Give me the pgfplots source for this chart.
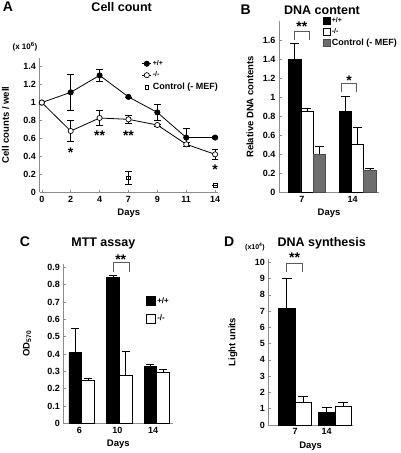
\documentclass[border=0pt]{standalone}
\usepackage{fontspec}
\setmainfont{Liberation Sans}
\usepackage{pgfplots}
\pgfplotsset{compat=1.18}

\definecolor{axgray}{RGB}{140,140,140}
\definecolor{ctrlgray}{RGB}{110,110,110}
\definecolor{brgray}{RGB}{90,90,90}

\tikzset{
  sigstar/.style={font=\bfseries\fontsize{14}{14}\selectfont, inner sep=0pt, yshift=-3pt},
  bracket/.style={draw=brgray, line width=0.7pt},
}
\pgfplotsset{
  panel/.style={
    scale only axis,
    anchor=south west,
    axis x line*=bottom, axis y line*=left,
    axis line style={draw=axgray, line width=0.8pt, -},
    major tick style={draw=axgray, line width=0.6pt},
    major tick length=2.5pt,
    tick align=inside,
    /pgf/number format/assume math mode=true,
    tick label style={font=\bfseries\fontsize{9}{10}\selectfont, text=black},
    label style={font=\bfseries\fontsize{9.5}{11}\selectfont},
    clip=false,
  },
  ylabx/.style={ylabel style={at={(axis description cs:#1,0.5)}, anchor=center, rotate=0}},
  barerr/.style={error bars/.cd, y dir=plus, y explicit,
    error bar style={black, line width=0.6pt},
    error mark options={rotate=90, black, line width=0.6pt, mark size=#1}},
  lineerr/.style={error bars/.cd, y dir=both, y explicit,
    error bar style={black, line width=0.6pt},
    error mark options={rotate=90, black, line width=0.6pt, mark size=3.3pt}},
}

\begin{document}
\begin{tikzpicture}[font=\bfseries]
\useasboundingbox (0pt,0pt) rectangle (400pt,453pt);

% ---------------- Panel A ----------------
\node[font=\bfseries\fontsize{14}{14}\selectfont] at (8pt,446pt) {A};
\node[font=\bfseries\fontsize{12.5}{13}\selectfont] at (121.7pt,445.5pt) {Cell count};
\node[font=\bfseries\fontsize{8}{9}\selectfont] at (25pt,406.3pt) {(x 10\textsuperscript{6})};
\begin{axis}[panel, at={(39.5pt,260.7pt)}, width=178.5pt, height=134.6pt,
  xmin=-0.08, xmax=6.1, ymin=0, ymax=1.5,
  ytick={0,0.2,0.4,0.6,0.8,1,1.2,1.4},
  xtick={0,1,2,3,4,5,6}, xticklabels={0,2,4,7,9,11,14},
  xlabel={Days}, ylabel={Cell counts / well}, ylabx=-0.19,
  legend style={at={(axis description cs:0.5725,0.99)}, anchor=north west,
    draw=none, fill=none, inner sep=0pt, row sep=2.5pt,
    font=\bfseries\fontsize{9}{10}\selectfont, nodes={inner sep=1.2pt}},
  legend cell align=left,
  legend image code/.code={\draw[mark repeat=2, mark phase=2, #1] plot coordinates {(0pt,0pt) (4.5pt,0pt) (9pt,0pt)};},
]
\addplot[black, line width=0.8pt, mark=*, mark size=2.6pt, lineerr]
  coordinates {(0,1.0) +- (0,0) (1,1.114) +- (0,0.197) (2,1.303) +- (0,0.065)
    (3,1.063) +- (0,0) (4,0.89) +- (0,0.09) (5,0.61) +- (0,0.10) (6,0.61) +- (0,0.01)};
\addlegendentry{\fontsize{7}{8}\selectfont +/+}
\addplot[black, line width=0.8pt, mark=*, mark size=2.6pt, mark options={fill=white, line width=0.7pt}, lineerr]
  coordinates {(0,1.0) +- (0,0) (1,0.683) +- (0,0.12) (2,0.828) +- (0,0.083)
    (3,0.813) +- (0,0.043) (4,0.75) +- (0,0.01) (5,0.535) +- (0,0.02) (6,0.423) +- (0,0.056)};
\addlegendentry{\fontsize{7}{8}\selectfont -/-}
\addplot[only marks, black, mark=square, mark size=1.8pt, mark options={line width=0.6pt, fill=white}, lineerr]
  coordinates {(3,0.163) +- (0,0.07) (6,0.08) +- (0,0)};
\addlegendentry{Control (- MEF)}
\node[sigstar] at (axis cs:1,0.48) {*};
\node[sigstar] at (axis cs:2,0.66) {**};
\node[sigstar] at (axis cs:3,0.66) {**};
\node[sigstar] at (axis cs:6,0.286) {*};
\end{axis}

% ---------------- Panel B ----------------
\node[font=\bfseries\fontsize{14}{14}\selectfont] at (245.7pt,443pt) {B};
\node[font=\bfseries\fontsize{12.5}{13}\selectfont] at (322pt,443pt) {DNA content};
\begin{axis}[panel, at={(279pt,260.3pt)}, width=100pt, height=171.7pt,
  xmin=-0.55, xmax=1.42, ymin=0, ymax=1.8,
  ytick={0,0.2,0.4,0.6,0.8,1,1.2,1.4,1.6},
  xtick={-0.1,0.9}, xticklabels={7,14}, xtick style={draw=none},
  xlabel={Days}, ylabel={Relative DNA contents}, ylabx=-0.29,
  legend style={at={(axis description cs:0.44,1.025)}, anchor=north west,
    draw=none, fill=none, inner sep=0pt, row sep=2pt,
    font=\bfseries\fontsize{9}{10}\selectfont, nodes={inner sep=1pt}},
  legend cell align=left,
  legend image code/.code={\draw[#1, line width=0.6pt] (0pt,-3.5pt) rectangle (7pt,3.5pt);},
]
\addplot[ybar, bar width=0.24, bar shift=0, fill=black, draw=black, line width=0.6pt, barerr=4.5pt]
  coordinates {(-0.24,1.397) +- (0,0.168) (0.76,0.849) +- (0,0.157)};
\addlegendentry{\fontsize{7}{8}\selectfont +/+}
\addplot[ybar, bar width=0.24, bar shift=0, fill=white, draw=black, line width=0.6pt, barerr=4.5pt]
  coordinates {(0,0.849) +- (0,0.035) (1,0.507) +- (0,0.178)};
\addlegendentry{\fontsize{7}{8}\selectfont -/-}
\addplot[ybar, bar width=0.24, bar shift=0, fill=ctrlgray, draw=black!70, line width=0.6pt, barerr=4.5pt]
  coordinates {(0.24,0.405) +- (0,0.077) (1.24,0.238) +- (0,0.017)};
\addlegendentry{Control (- MEF)}
\draw[bracket] (axis cs:-0.25,1.60) -- (axis cs:-0.25,1.69) -- (axis cs:0.04,1.69) -- (axis cs:0.04,1.60);
\node[sigstar] at (axis cs:-0.1,1.77) {**};
\draw[bracket] (axis cs:0.68,1.06) -- (axis cs:0.68,1.147) -- (axis cs:0.98,1.147) -- (axis cs:0.98,1.06);
\node[sigstar] at (axis cs:0.83,1.21) {*};
\end{axis}

% ---------------- Panel C ----------------
\node[font=\bfseries\fontsize{14}{14}\selectfont] at (25pt,211.3pt) {C};
\node[font=\bfseries\fontsize{12.5}{13}\selectfont] at (103.3pt,209.7pt) {MTT assay};
\begin{axis}[panel, at={(63.3pt,29.7pt)}, width=110pt, height=159.4pt,
  xmin=-0.49, xmax=2.44, ymin=0, ymax=0.92,
  ytick={0,0.1,0.2,0.3,0.4,0.5,0.6,0.7,0.8,0.9},
  xtick={-0.06,0.95,1.9}, xticklabels={6,10,14}, xtick style={draw=none},
  xlabel={Days}, ylabel={OD\textsubscript{570}}, ylabx=-0.33,
  legend style={at={(axis description cs:0.752,0.80)}, anchor=north west,
    draw=none, fill=none, inner sep=0pt, row sep=7pt,
    font=\bfseries\fontsize{8}{9}\selectfont, nodes={inner sep=1.5pt}},
  legend cell align=left,
  legend image code/.code={\draw[#1, line width=0.6pt] (0pt,-4.5pt) rectangle (9pt,4.5pt);},
]
\addplot[ybar, bar width=0.34, bar shift=0, fill=black, draw=black, line width=0.6pt, barerr=4pt]
  coordinates {(-0.17,0.408) +- (0,0.14) (0.83,0.84) +- (0,0.012) (1.83,0.329) +- (0,0.011)};
\addlegendentry{+/+}
\addplot[ybar, bar width=0.34, bar shift=0, fill=white, draw=black, line width=0.6pt, barerr=4pt]
  coordinates {(0.17,0.248) +- (0,0.012) (1.17,0.275) +- (0,0.138) (2.17,0.292) +- (0,0.018)};
\addlegendentry{-/-}
\draw[bracket] (axis cs:0.83,0.875) -- (axis cs:0.83,0.929) -- (axis cs:1.26,0.929) -- (axis cs:1.26,0.875);
\node[sigstar] at (axis cs:1.04,0.961) {**};
\end{axis}

% ---------------- Panel D ----------------
\node[font=\bfseries\fontsize{14}{14}\selectfont] at (229.3pt,211.3pt) {D};
\node[font=\bfseries\fontsize{12.5}{13}\selectfont] at (321.7pt,209.7pt) {DNA synthesis};
\node[font=\bfseries\fontsize{7}{8}\selectfont] at (255pt,206.3pt) {(x10\textsuperscript{4})};
\begin{axis}[panel, at={(268.3pt,28pt)}, width=84.7pt, height=166pt,
  xmin=-0.67, xmax=1.45, ymin=0, ymax=10.2,
  ytick={0,1,2,3,4,5,6,7,8,9,10},
  xtick={0,0.79}, xticklabels={7,14}, xtick style={draw=none},
  xlabel={Days}, ylabel={Light units}, ylabx=-0.417,
]
\addplot[ybar, bar width=0.417, bar shift=0, fill=black, draw=black, line width=0.6pt, barerr=5pt]
  coordinates {(-0.208,7.17) +- (0,1.83) (0.792,0.78) +- (0,0.31)};
\addplot[ybar, bar width=0.417, bar shift=0, fill=white, draw=black, line width=0.6pt, barerr=5pt]
  coordinates {(0.208,1.37) +- (0,0.37) (1.208,1.13) +- (0,0.26)};
\draw[bracket] (axis cs:-0.21,9.42) -- (axis cs:-0.21,9.94) -- (axis cs:0.18,9.94) -- (axis cs:0.18,9.42);
\node[sigstar] at (axis cs:-0.01,10.45) {**};
\end{axis}
\end{tikzpicture}
\end{document}
